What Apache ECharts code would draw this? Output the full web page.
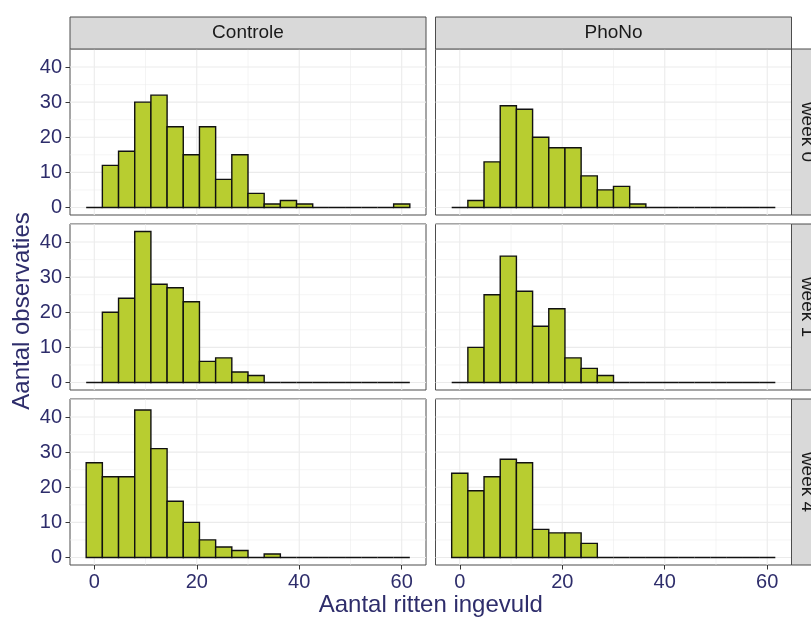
<!DOCTYPE html>
<html>
<head>
<meta charset="utf-8">
<script src="https://cdn.jsdelivr.net/npm/echarts@6.0.0/dist/echarts.min.js"></script>
<style>
  html, body { margin: 0; padding: 0; background: #ffffff; }
  #chart { width: 811px; height: 617px; }
</style>
</head>
<body>
<div id="chart"></div>
<script>
// Facets: treatment groups (columns) and measurement weeks (rows)
const groups = ['Controle', 'PhoNo'];
const weeks = ['week 0', 'week 1', 'week 4'];

// Histogram bins: 20 bins centred on 0 .. 60
const binCount = 20;
const binFirstCentre = 0;
const binLastCentre = 60;

// Counts per bin, one array per panel
const controleWeek0 = [0, 12, 16, 30, 32, 23, 15, 23, 8, 15, 4, 1, 2, 1, 0, 0, 0, 0, 0, 1];
const phonoWeek0    = [0, 2, 13, 29, 28, 20, 17, 17, 9, 5, 6, 1, 0, 0, 0, 0, 0, 0, 0, 0];
const controleWeek1 = [0, 20, 24, 43, 28, 27, 23, 6, 7, 3, 2, 0, 0, 0, 0, 0, 0, 0, 0, 0];
const phonoWeek1    = [0, 10, 25, 36, 26, 16, 21, 7, 4, 2, 0, 0, 0, 0, 0, 0, 0, 0, 0, 0];
const controleWeek4 = [27, 23, 23, 42, 31, 16, 10, 5, 3, 2, 0, 1, 0, 0, 0, 0, 0, 0, 0, 0];
const phonoWeek4    = [24, 19, 23, 28, 27, 8, 7, 7, 4, 0, 0, 0, 0, 0, 0, 0, 0, 0, 0, 0];

// Axis breaks
const xMajor = [0, 20, 40, 60];
const xMinor = [10, 30, 50];
const yMajor = [0, 10, 20, 30, 40];
const yMinor = [5, 15, 25, 35, 45];

const xTitle = 'Aantal ritten ingevuld';
const yTitle = 'Aantal observaties';

const panelCounts = [
  [controleWeek0, phonoWeek0],
  [controleWeek1, phonoWeek1],
  [controleWeek4, phonoWeek4]
];

// ---- layout ----
const colLeft = [70, 435.5];
const colWidth = 356;
const rowTop = [49, 224, 399];
const rowHeight = 166;
const stripSize = 32;
const stripTop = 17;

const FONT = "'Liberation Sans', Arial, Helvetica, sans-serif";
const TEXT_AXIS = '#2e2d6b';
const BAR_FILL = '#b8cd30';

const binWidth = (binLastCentre - binFirstCentre) / (binCount - 1);
const binLo = binFirstCentre - binWidth / 2;
const binHi = binLastCentre + binWidth / 2;
const xPad = (binHi - binLo) * 0.05;
const xMin = binLo - xPad, xMax = binHi + xPad;

let yDataMax = 0;
panelCounts.forEach(r => r.forEach(a => a.forEach(v => { if (v > yDataMax) yDataMax = v; })));
const yPad = yDataMax * 0.05;
const yMin = -yPad, yMax = yDataMax + yPad;

const grids = [], xAxes = [], yAxes = [], series = [];

weeks.forEach((wk, r) => {
  groups.forEach((grp, c) => {
    const gi = grids.length;
    const bottomRow = r === weeks.length - 1;
    const leftCol = c === 0;
    grids.push({
      left: colLeft[c], top: rowTop[r], width: colWidth, height: rowHeight,
      show: true, backgroundColor: '#ffffff', borderColor: '#4d4d4d', borderWidth: 1
    });
    xAxes.push({
      gridIndex: gi, type: 'value', min: xMin, max: xMax, position: 'bottom',
      axisLine: { show: false, onZero: false },
      splitLine: { show: false },
      axisTick: { show: bottomRow, customValues: xMajor, length: 4.5, lineStyle: { color: '#333333', width: 1 } },
      axisLabel: { show: bottomRow, customValues: xMajor, margin: 7, color: TEXT_AXIS, fontSize: 20, fontFamily: FONT }
    });
    yAxes.push({
      gridIndex: gi, type: 'value', min: yMin, max: yMax, position: 'left',
      axisLine: { show: false, onZero: false },
      splitLine: { show: false },
      axisTick: { show: leftCol, customValues: yMajor, length: 4.5, lineStyle: { color: '#333333', width: 1 } },
      axisLabel: { show: leftCol, customValues: yMajor, margin: 8, color: TEXT_AXIS, fontSize: 20, fontFamily: FONT }
    });

    // grid lines: [value, orientation (0 vertical / 1 horizontal), major flag]
    const lines = [];
    xMinor.forEach(v => lines.push([v, 0, 0]));
    yMinor.forEach(v => lines.push([v, 1, 0]));
    xMajor.forEach(v => lines.push([v, 0, 1]));
    yMajor.forEach(v => lines.push([v, 1, 1]));
    series.push({
      type: 'custom', xAxisIndex: gi, yAxisIndex: gi, silent: true, z: 1,
      data: lines,
      encode: { x: -1, y: -1 },
      renderItem: function (params, api) {
        const cs = params.coordSys;
        const v = api.value(0), vertical = api.value(1) === 0, major = api.value(2) === 1;
        const style = { stroke: '#ebebeb', lineWidth: major ? 1.1 : 0.55 };
        if (vertical) {
          const px = api.coord([v, 0])[0];
          if (px < cs.x || px > cs.x + cs.width) return null;
          return { type: 'line', shape: { x1: px, y1: cs.y, x2: px, y2: cs.y + cs.height }, style: style };
        }
        const py = api.coord([0, v])[1];
        if (py < cs.y || py > cs.y + cs.height) return null;
        return { type: 'line', shape: { x1: cs.x, y1: py, x2: cs.x + cs.width, y2: py }, style: style };
      }
    });

    // histogram bars: [left edge, right edge, count]
    const bars = panelCounts[r][c].map((n, k) => [binLo + k * binWidth, binLo + (k + 1) * binWidth, n]);
    series.push({
      type: 'custom', xAxisIndex: gi, yAxisIndex: gi, z: 3,
      data: bars,
      encode: { x: [0, 1], y: 2 },
      renderItem: function (params, api) {
        const p0 = api.coord([api.value(0), api.value(2)]);
        const p1 = api.coord([api.value(1), 0]);
        return {
          type: 'rect',
          shape: { x: p0[0], y: p0[1], width: p1[0] - p0[0], height: p1[1] - p0[1] },
          style: { fill: BAR_FILL, stroke: '#111111', lineWidth: 1.4 }
        };
      }
    });
  });
});

// facet strips
const graphics = [];
groups.forEach((g, c) => {
  graphics.push({
    type: 'rect', silent: true, z: 10,
    shape: { x: colLeft[c], y: stripTop, width: colWidth, height: stripSize },
    style: { fill: '#d9d9d9', stroke: '#4d4d4d', lineWidth: 1 }
  });
  graphics.push({
    type: 'text', silent: true, z: 11,
    x: colLeft[c] + colWidth / 2, y: stripTop + stripSize / 2,
    style: { text: g, fill: '#1a1a1a', font: '19px ' + FONT, align: 'center', verticalAlign: 'middle' }
  });
});
const stripLeft = colLeft[1] + colWidth;
weeks.forEach((w, r) => {
  graphics.push({
    type: 'rect', silent: true, z: 10,
    shape: { x: stripLeft, y: rowTop[r], width: stripSize, height: rowHeight },
    style: { fill: '#d9d9d9', stroke: '#4d4d4d', lineWidth: 1 }
  });
  graphics.push({
    type: 'text', silent: true, z: 11,
    x: stripLeft + stripSize / 2, y: rowTop[r] + rowHeight / 2,
    rotation: -Math.PI / 2,
    style: { text: w, fill: '#1a1a1a', font: '19px ' + FONT, align: 'center', verticalAlign: 'middle' }
  });
});

// axis titles
const plotLeft = colLeft[0], plotRight = colLeft[1] + colWidth;
const plotTop = rowTop[0], plotBottom = rowTop[2] + rowHeight;
graphics.push({
  type: 'text', silent: true, z: 11,
  x: (plotLeft + plotRight) / 2, y: 605,
  style: { text: xTitle, fill: TEXT_AXIS, font: '24px ' + FONT, align: 'center', verticalAlign: 'middle' }
});
graphics.push({
  type: 'text', silent: true, z: 11,
  x: 22, y: 311,
  rotation: Math.PI / 2,
  style: { text: yTitle, fill: TEXT_AXIS, font: '24px ' + FONT, align: 'center', verticalAlign: 'middle' }
});

const chart = echarts.init(document.getElementById('chart'), null, { renderer: 'canvas' });
chart.setOption({
  animation: false,
  backgroundColor: '#ffffff',
  grid: grids,
  xAxis: xAxes,
  yAxis: yAxes,
  series: series,
  graphic: graphics
});
</script>
</body>
</html>
